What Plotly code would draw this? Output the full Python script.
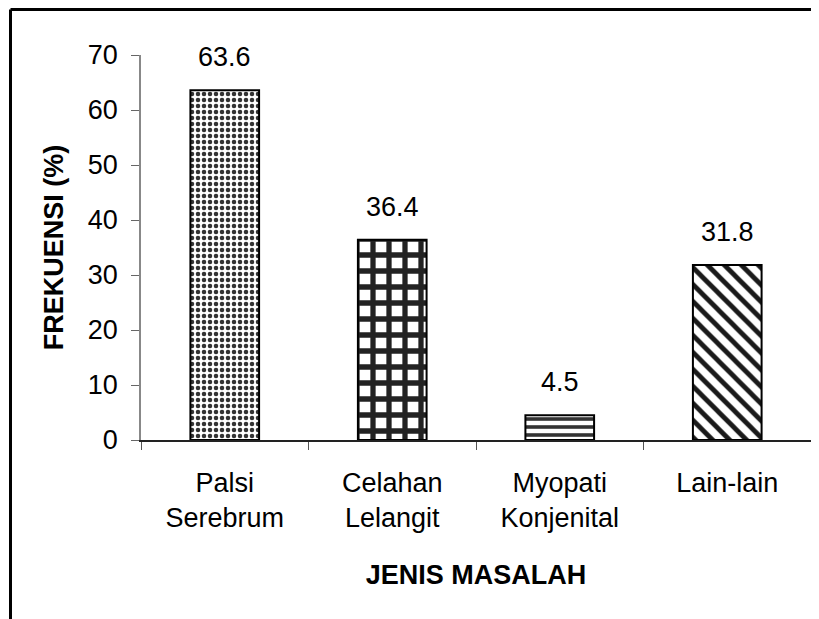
import plotly.graph_objects as go

categories = ["Palsi<br>Serebrum", "Celahan<br>Lelangit", "Myopati<br>Konjenital", "Lain-lain"]
values = [63.6, 36.4, 4.5, 31.8]
value_labels = ["63.6", "36.4", "4.5", "31.8"]
y_ticks = [0, 10, 20, 30, 40, 50, 60, 70]

patterns = [".", "+", "-", "\\"]
pattern_sizes = [6, 16, 8, 12]
pattern_solidity = [0.45, 0.55, 0.45, 0.4]
pattern_colors = ["#333333", "#222222", "#333333", "#1a1a1a"]

FONT = "Liberation Sans, Arial, sans-serif"
FS = 27

fig = go.Figure()
for i, (c, v) in enumerate(zip(categories, values)):
    fig.add_trace(go.Bar(
        x=[c], y=[v], width=0.41,
        marker=dict(
            color="white",
            line=dict(color="black", width=2),
            pattern=dict(shape=patterns[i], fgcolor=pattern_colors[i], fgopacity=1, bgcolor="white",
                         size=pattern_sizes[i], solidity=pattern_solidity[i]),
        ),
        showlegend=False,
        hoverinfo="skip",
    ))

for c, v, t in zip(categories, values, value_labels):
    fig.add_annotation(x=c, y=v, text=t, showarrow=False, yanchor="bottom",
                       yshift=16, font=dict(size=FS, color="black", family=FONT))

# page has an 8px body offset; design in figure pixel coords
OFF = 8
W, H = 819 - OFF, 619 - OFF
L, T = 141 - OFF, 55 - OFF
R = W - (811 - OFF)
B = H - (440 - OFF)
pw, ph = W - L - R, H - T - B
def px(xs):
    return (xs - OFF - L) / pw
def py(ys):
    return (H - B - (ys - OFF)) / ph

# outer frame (left and top edges)
fig.add_shape(type="line", xref="paper", yref="paper",
              x0=px(10.5), y0=py(660), x1=px(10.5), y1=py(9.5),
              line=dict(color="black", width=3))
fig.add_shape(type="line", xref="paper", yref="paper",
              x0=px(10.5), y0=py(9.5), x1=px(860), y1=py(9.5),
              line=dict(color="black", width=3))

fig.update_layout(
    width=W, height=H,
    margin=dict(l=L, r=R, t=T, b=B, pad=0),
    plot_bgcolor="white", paper_bgcolor="white",
    font=dict(family=FONT, size=FS, color="black"),
    xaxis=dict(
        showline=True, linecolor="#222222", linewidth=1.5,
        ticks="outside", tickson="boundaries", ticklen=8, tickcolor="#555555",
        tickfont=dict(size=FS, family=FONT),
        ticklabelstandoff=18,
        title=dict(text="<b>JENIS MASALAH</b>", font=dict(size=FS, family=FONT), standoff=33),
        showgrid=False, zeroline=False,
    ),
    yaxis=dict(
        range=[0, 70], tickvals=y_ticks,
        showline=True, linecolor="#888888", linewidth=1.5,
        ticks="outside", ticklen=8, tickcolor="#666666",
        tickfont=dict(size=FS, family=FONT),
        ticklabelstandoff=8,
        title=dict(text="<b>FREKUENSI (%)</b>", font=dict(size=FS, family=FONT), standoff=16),
        showgrid=False, zeroline=False,
    ),
)

fig.write_html("out.html")
